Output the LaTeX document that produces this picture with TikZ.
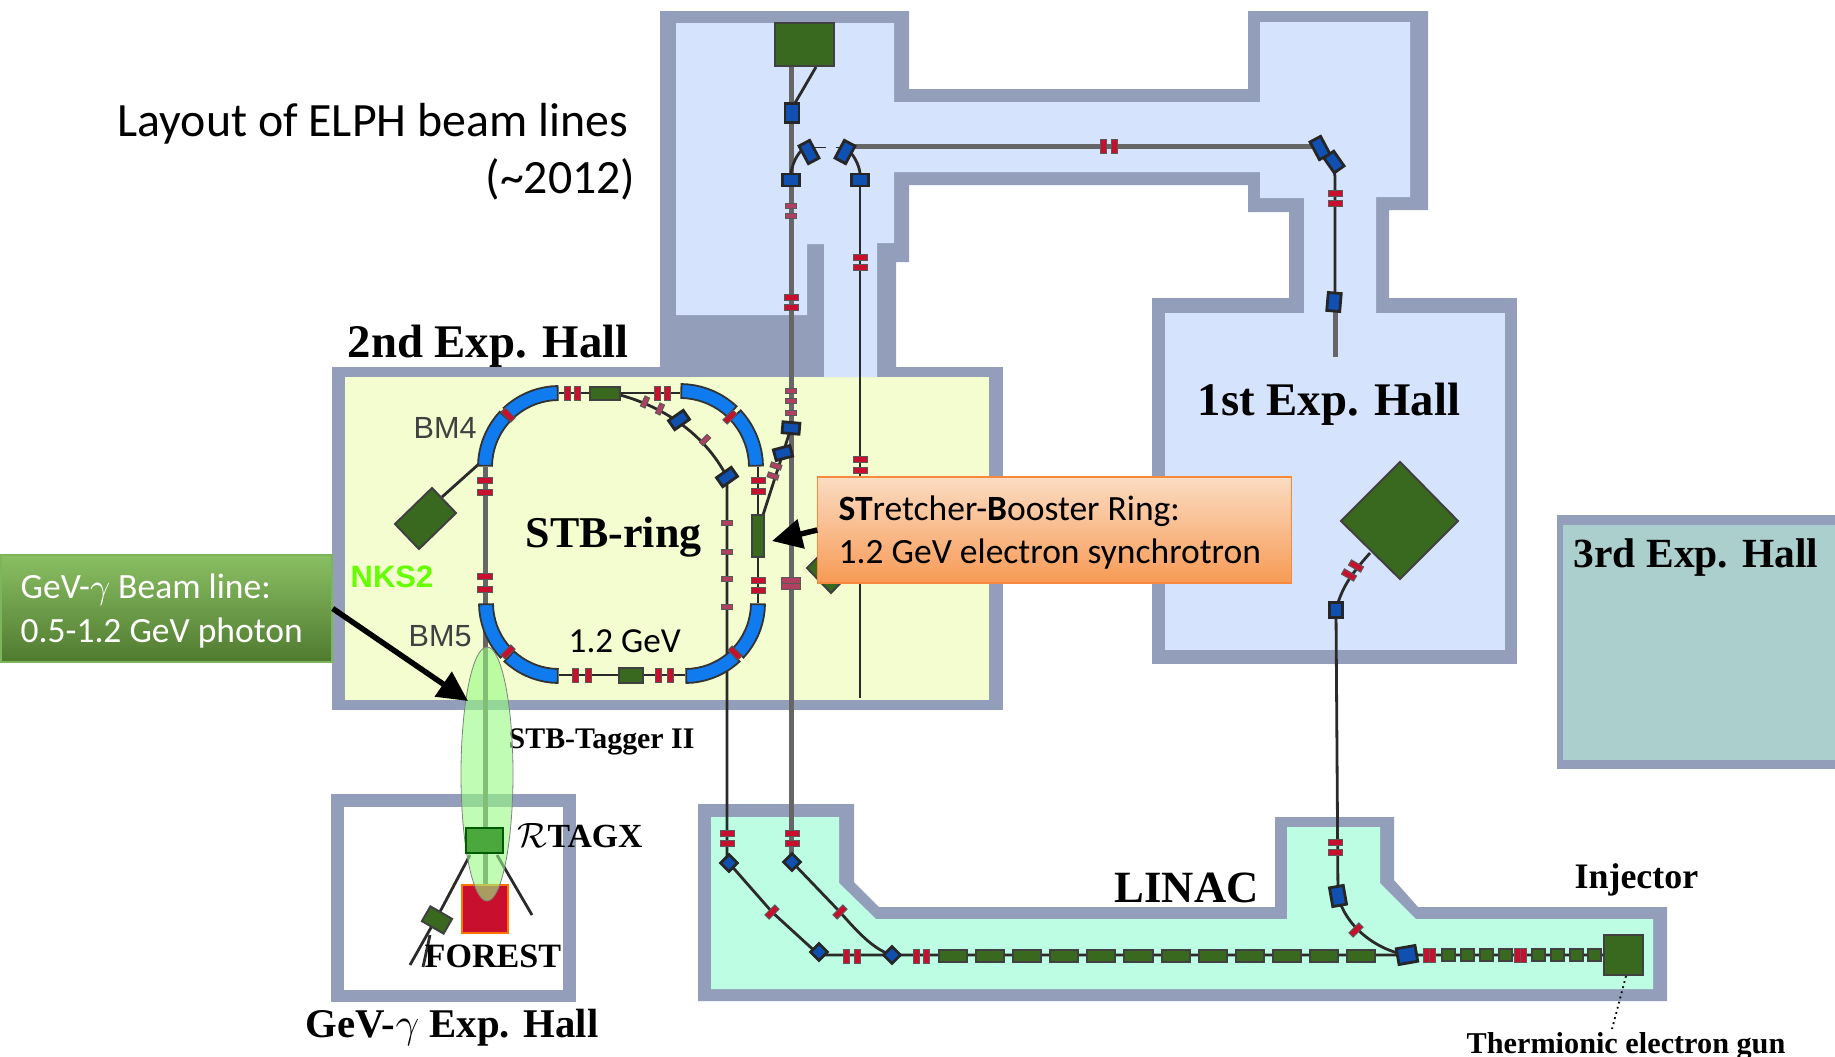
\documentclass[tikz,border=0pt]{standalone}
\usepackage{fontspec}
\setmainfont{Carlito}
\newfontfamily\timesfont{Liberation Serif}
\newfontfamily\arialfont{Liberation Sans}
\usepackage{xcolor}
\usetikzlibrary{arrows.meta, positioning, shapes.geometric}
\definecolor{wallgray}{HTML}{939FBA}
\definecolor{hallblue}{HTML}{D5E3FC}
\definecolor{hallyellow}{HTML}{F3FDD0}
\definecolor{hallmint}{HTML}{BDFDE3}
\definecolor{hallteal}{HTML}{AACFCD}
\definecolor{maggreen}{HTML}{39691F}
\definecolor{magblue}{HTML}{1050B0}
\definecolor{bendblue}{HTML}{0F7BEF}
\definecolor{quadred}{HTML}{C8102E}
\definecolor{quadmuted}{HTML}{B04060}
\definecolor{linegray}{HTML}{666666}
\definecolor{linedark}{HTML}{2A2A2A}

\begin{document}
\begin{tikzpicture}[x=0.01cm, y=-0.01cm,
    wall/.style={fill=wallgray},
    beamthick/.style={draw=linegray, line width=0.05cm},
    beamthin/.style={draw=linedark, line width=0.028cm},
    quadbar/.style={draw=black!65, line width=0.01cm, fill=quadred, inner sep=0, minimum width=0.14cm, minimum height=0.06cm},
    quadfaint/.style={quadbar, fill=quadmuted, minimum width=0.11cm, minimum height=0.05cm},
    greenmag/.style={draw=black!75, line width=0.02cm, fill=maggreen, inner sep=0},
    bluemag/.style={draw=black!85, line width=0.028cm, fill=magblue, inner sep=0},
    bendmag/.style={draw=black!80, line width=0.018cm, fill=bendblue},
    hallname/.style={anchor=base west, inner sep=0, font=\timesfont\bfseries\fontsize{13.3}{15}\selectfont},
    smallname/.style={hallname, font=\timesfont\bfseries\fontsize{8.5}{10}\selectfont},
    bmname/.style={anchor=base west, inner sep=0, text=black!75, font=\arialfont\fontsize{8.7}{10}\selectfont},
    plainname/.style={anchor=base west, inner sep=0, font=\fontsize{10}{12}\selectfont},
    calltext/.style={anchor=west, inner sep=0, align=left, font=\fontsize{10.1}{12.4}\selectfont},
    callarrow/.style={line width=0.055cm, -{Triangle[length=0.3cm, width=0.29cm]}}]
  \useasboundingbox (0,0) rectangle (1835,1057);

  % Halls
  \fill[wall] (332,367) rectangle (1003,710);
  \fill[hallyellow] (345,377) rectangle (989,700);
  \fill[wall] (1152,298) rectangle (1517,664);
  \fill[hallblue] (1165,313) rectangle (1505,650);
  \fill[wall] (660,11) -- (909,11) -- (909,89) -- (1248,89) -- (1248,11) -- (1428,11) -- (1428,210)
    -- (1389,210) -- (1389,305) -- (1289,305) -- (1289,212) -- (1248,212) -- (1248,185) -- (909,185)
    -- (909,262) -- (896,262) -- (896,367) -- (660,367) -- cycle;
  \fill[hallblue] (676,23) -- (894,23) -- (894,102) -- (1260,102) -- (1260,22) -- (1410,22) -- (1410,197)
    -- (1376,197) -- (1376,313) -- (1304,313) -- (1304,198) -- (1260,198) -- (1260,172) -- (894,172)
    -- (894,243) -- (877,243) -- (877,377) -- (824,377) -- (824,244) -- (807,244) -- (807,315) -- (676,315) -- cycle;
  \fill[wall] (1557,515) rectangle (1835,769);
  \fill[hallteal] (1563,525) rectangle (1835,760);
  \fill[wall] (331,794) rectangle (576,1002);
  \fill[white] (344,807) rectangle (563,990);
  % LINAC
  \fill[wall] (698,804) -- (854,804) -- (854,882) -- (879,907) -- (1275,907) -- (1275,817) -- (1394,817)
    -- (1394,880) -- (1418,907) -- (1667,907) -- (1667,1001) -- (698,1001) -- cycle;
  \fill[hallmint] (711,817) -- (839,817) -- (839,883) -- (876,919) -- (1287,919) -- (1287,827) -- (1380,827)
    -- (1380,883) -- (1416,919) -- (1653,919) -- (1653,989) -- (711,989) -- cycle;

  % Beam lines
  \draw[beamthick] (791,67) -- (791,862);
  \draw[beamthin] (816,67) -- (795,103);
  \draw[beamthin] (860,180) -- (860,698);
  \draw[beamthick] (848,146) -- (1317,146);
  \draw[beamthin] (791,173) .. controls (793,160) and (800,150) .. (806,147);
  \draw[draw=linedark, line width=0.01cm, dashed] (815,147) -- (840,147);
  \draw[beamthin] (848,150) .. controls (854,155) and (859,165) .. (860,173);
  \draw[beamthin] (1317,146) .. controls (1328,150) and (1335,160) .. (1335,180) -- (1335,302);
  \draw[beamthick] (1335,302) -- (1335,357);
  % Ring
  \draw[beamthick] (485,467) -- (485,885);
  \draw[beamthin] (758,467) -- (758,603);
  \draw[beamthin] (559,393) -- (680,393);
  \draw[beamthin] (559,675) -- (685,675);
  \draw[beamthin] (620,395) .. controls (650,403) and (700,425) .. (727,477) -- (727,863);
  \draw[beamthin] (763,515) -- (783,453) -- (791,428);
  \draw[beamthin] (442,497) -- (480,463);
  % Rings of bending magnets
  \foreach \cx/\cy/\rr/\st in {559/467/74/180, 680/467/76/270, 685/603/73/0, 559/603/73/90}
    \foreach \aa/\bb in {1/43, 47/89}
      \draw[bendmag] plot[variable=\t, domain={\st+\aa}:{\st+\bb}, samples=10] ({\cx+(\rr+7)*cos(\t)},{\cy+(\rr+7)*sin(\t)})
        -- plot[variable=\t, domain={\st+\bb}:{\st+\aa}, samples=10] ({\cx+(\rr-7)*cos(\t)},{\cy+(\rr-7)*sin(\t)}) -- cycle;
  % LINAC beam
  \draw[beamthin] (729,863) -- (772,912) -- (819,955) -- (1604,955);
  \draw[beamthin] (792,862) -- (840,912) .. controls (860,935) and (875,950) .. (892,955);
  \draw[beamthin] (1336,610) -- (1338,896) .. controls (1345,925) and (1375,950) .. (1407,955);
  \draw[beamthin] (1370,553) .. controls (1355,570) and (1342,585) .. (1336,610);
  \draw[beamthin] (470,855) -- (442,908) -- (410,965);
  \draw[beamthin] (430,935) -- (423,967);
  \draw[beamthin] (497,855) -- (532,915);
  \draw[draw=black, line width=0.018cm, densely dotted] (1626,976) -- (1612,1029);

  % Quadrupoles
  \foreach \x/\y [count=\i] in {791/297, 791/307, 860/257, 860/267, 1335/193, 1335/203, 485/480, 485/492, 485/576, 485/589,
      758/480, 758/491, 758/580, 758/590, 727/833, 727/843, 792/833, 792/843, 1335/842, 1335/852, 860/459, 860/470}
    \node[quadbar] (qv\i) at (\x,\y) {};
  \foreach \x/\y [count=\i] in {791/206, 791/216, 791/391, 791/401, 791/413, 727/523, 727/552, 727/579, 727/607}
    \node[quadfaint] (qf\i) at (\x,\y) {};
  \foreach \x/\y [count=\i] in {567/393, 577/393, 657/393, 667/393, 575/675, 588/675, 658/675, 670/675, 1103/146, 1114/146,
      846/956, 857/956, 916/956, 926/956, 1426/955, 1432/955, 1517/955, 1523/955}
    \node[quadbar, rotate=90] (qh\i) at (\x,\y) {};
  \foreach \x/\y/\a [count=\i] in {508/415/-45, 730/417/45, 735/653/-45, 508/652/45, 772/912/45, 840/912/45, 1356/930/45,
      1356/566/-30, 1349/575/-30}
    \node[quadbar, rotate=\a] (qt\i) at (\x,\y) {};
  \foreach \x/\y/\a [count=\i] in {773/476/-18, 776/466/-18, 645/402/65, 660/409/65, 705/440/45}
    \node[quadfaint, rotate=\a] (qs\i) at (\x,\y) {};
  \node[quadfaint, minimum width=0.19cm, minimum height=0.06cm] (qw1) at (791,580) {};
  \node[quadfaint, minimum width=0.19cm, minimum height=0.06cm] (qw2) at (791,586) {};

  % Blue steering magnets
  \foreach \x/\y/\w/\h/\a [count=\i] in {792/113/.14/.19/0, 791/180/.17/.12/0, 860/180/.17/.12/0, 809/152/.12/.2/28,
      845/152/.12/.2/-28, 1320/148/.12/.2/28, 1334/162/.12/.18/35, 1334/302/.13/.18/-5, 791/428/.17/.11/-5, 783/453/.17/.11/15,
      679/420/.18/.11/35, 727/477/.18/.11/35, 1336/610/.13/.15/0, 1338/896/.14/.19/10, 1407/955/.19/.16/10,
      729/863/.12/.12/45, 792/862/.12/.12/45, 819/952/.12/.12/45, 892/955/.12/.12/45}
    \node[bluemag, minimum width=\w cm, minimum height=\h cm, rotate=\a] (blue\i) at (\x,\y) {};

  % Green magnets
  \foreach \x/\y/\w/\h/\a [count=\i] in {804.5/44.5/.59/.43/0, 605/393.5/.3/.13/0, 631/675/.24/.15/0, 758/536/.12/.42/0,
      437/920/.25/.17/-30, 1623.5/955/.39/.4/0}
    \node[greenmag, minimum width=\w cm, minimum height=\h cm, rotate=\a] (green\i) at (\x,\y) {};
  \foreach \k in {0,...,11}
    \node[greenmag, minimum width=0.28cm, minimum height=0.125cm] (acc\k) at ({953+\k*37.1},956) {};
  \foreach \x [count=\i] in {1448,1467,1486,1505,1538,1557,1576,1594}
    \node[greenmag, minimum width=0.13cm, minimum height=0.12cm] (inj\i) at (\x,955) {};
  % Dumps
  \draw[greenmag] (432,488) -- (456,513) -- (419,549) -- (395,524) -- cycle;
  \draw[greenmag] (1400,462) -- (1458,521) -- (1400,579) -- (1341,521) -- cycle;
  \draw[greenmag] (831,544) -- (855,568) -- (831,593) -- (807,568) -- cycle;
  \fill[quadred, draw=orange!90!red, line width=0.02cm] (462,885) rectangle (508,933);

  % Labels
  \node[hallname] (hall2) at (347,357) {2nd Exp. Hall};
  \node[hallname] (hall1) at (1197,415) {1st Exp. Hall};
  \node[hallname, font=\timesfont\bfseries\fontsize{11.8}{14}\selectfont] (hall3) at (1573,567) {3rd Exp. Hall};
  \node[hallname, font=\timesfont\bfseries\fontsize{11.6}{14}\selectfont] (hallg) at (305,1037) {GeV-$\gamma$ Exp. Hall};
  \node[hallname, font=\timesfont\bfseries\fontsize{12.5}{14}\selectfont] (stbring) at (525,547) {STB-ring};
  \node[hallname, font=\timesfont\bfseries\fontsize{12.7}{14}\selectfont] (linac) at (1114,902) {LINAC};
  \node[hallname, font=\timesfont\bfseries\fontsize{10.2}{12}\selectfont] (inject) at (1574,888) {Injector};
  \node[hallname, font=\timesfont\bfseries\fontsize{9.7}{12}\selectfont] (forest) at (424,967) {FOREST};
  \node[hallname, font=\timesfont\bfseries\fontsize{9.6}{12}\selectfont] (rtagx) at (517,847) {$\mathcal{R}$TAGX};
  \node[smallname] (tagger) at (508,748) {STB-Tagger II};
  \node[smallname, font=\timesfont\bfseries\fontsize{8.6}{10}\selectfont] (gun) at (1466,1053) {Thermionic electron gun};
  \node[bmname] (bm4) at (413,438) {BM4};
  \node[bmname] (bm5) at (408,646) {BM5};
  \node[bmname, text={rgb,255:red,102;green,255;blue,0}, font=\arialfont\bfseries\fontsize{8.8}{10}\selectfont] (nks) at (350,587) {NKS2};
  \node[plainname] (energy) at (568,652) {1.2 GeV};
  \node[plainname, font=\fontsize{13.6}{16}\selectfont] (title1) at (117,136) {Layout of ELPH beam lines};
  \node[plainname, font=\fontsize{13.6}{16}\selectfont, anchor=base east] (title2) at (636,193) {(\textasciitilde2012)};

  % Photon beam envelope
  \draw[draw=gray, line width=0.008cm, fill={rgb,255:red,150;green,250;blue,130}, fill opacity=0.6] (487,774) ellipse [x radius=26, y radius=127];
  \node[draw=black!40!green!60!black, line width=0.012cm, fill={rgb,255:red,75;green,168;blue,60}, inner sep=0, minimum width=0.37cm, minimum height=0.25cm] (rtagbox) at (484.5,840.5) {};

  % Call-outs
  \node[draw={rgb,255:red,245;green,138;blue,60}, line width=0.012cm, top color={rgb,255:red,251;green,220;blue,194}, bottom color={rgb,255:red,247;green,154;blue,85},
    minimum width=4.73cm, minimum height=1.06cm, inner sep=0] (ringbox) at (1054.5,530) {};
  \node[calltext] (ringtext) at (838,532.5) {\textbf{ST}retcher-\textbf{B}ooster Ring:\\1.2 GeV electron synchrotron};
  \node[draw={rgb,255:red,124;green,181;blue,90}, line width=0.012cm, top color={rgb,255:red,138;green,191;blue,99}, bottom color={rgb,255:red,79;green,122;blue,47},
    minimum width=3.31cm, minimum height=1.07cm, inner sep=0] (gevbox) at (166.5,608.5) {};
  \node[calltext, text=white] (gevtext) at (20,611) {GeV-$\gamma$ Beam line:\\0.5-1.2 GeV photon};
  \coordinate (ringtip) at (772,541);
  \coordinate (gevtip) at (468,701);
  \draw[callarrow] (ringbox.west) -- (ringtip);
  \draw[callarrow] (gevbox.east) -- (gevtip);
\end{tikzpicture}
\end{document}
